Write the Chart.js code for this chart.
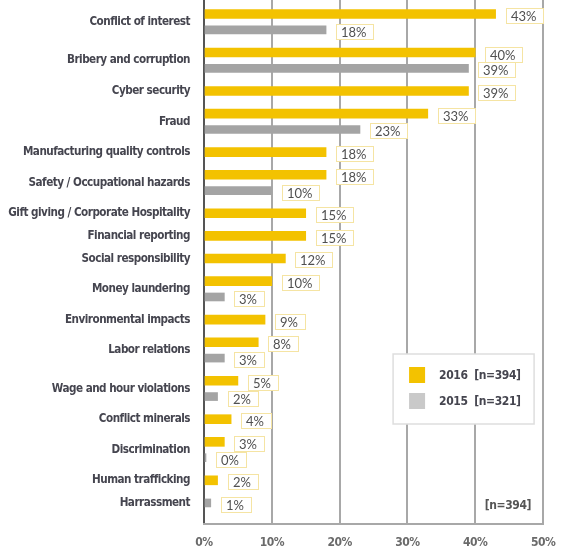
<!DOCTYPE html>
<html><head><meta charset="utf-8">
<script src="https://cdn.jsdelivr.net/npm/chart.js@4.4.1/dist/chart.umd.min.js"></script>
<style>html,body{margin:0;padding:0;background:#fff;}</style>
</head><body>
<canvas id="c" width="568" height="556" style="display:block;width:568px;height:556px"></canvas>
<script>
// ---- data ----
const categories = [
  'Conflict of interest', 'Bribery and corruption', 'Cyber security', 'Fraud',
  'Manufacturing quality controls', 'Safety / Occupational hazards',
  'Gift giving / Corporate Hospitality', 'Financial reporting', 'Social responsibility',
  'Money laundering', 'Environmental impacts', 'Labor relations', 'Wage and hour violations',
  'Conflict minerals', 'Discrimination', 'Human trafficking', 'Harrassment'
];
const values2016 = [43, 40, 39, 33, 18, 18, 15, 15, 12, 10, 9, 8, 5, 4, 3, 2, null];
const values2015 = [18, 39, null, 23, null, 10, null, null, null, 3, null, 3, 2, null, 0, null, 1];
const seriesLabels = ['2016  [n=394]', '2015  [n=321]'];
const xTickValues = [0, 10, 20, 30, 40, 50];
const sampleNote = '[n=394]';

// ---- layout of rows (derived from which series exist per category) ----
const PAIR_GAP = 0.7, CAT_GAP = 1.0;
const pts2016 = [], pts2015 = [], catCenters = [];
let pos = 0;
categories.forEach((c, i) => {
  if (i > 0) pos += CAT_GAP;
  const slots = [];
  if (values2016[i] !== null) { pts2016.push({x: values2016[i], y: pos}); slots.push(pos); }
  if (values2015[i] !== null) {
    if (slots.length) pos += PAIR_GAP;
    pts2015.push({x: values2015[i], y: pos}); slots.push(pos);
  }
  catCenters.push(slots.reduce((a, b) => a + b, 0) / slots.length);
});
const yMin = -0.62, yMax = pos + 0.93;

const condensed = '"Liberation Sans Narrow", "Arial Narrow", "DejaVu Sans Condensed", sans-serif';
const YELLOW = '#f3c200', GRAY = '#a4a4a4', LEG_GRAY = '#c9c9c9';

const tightText = {
  id: 'tightText',
  beforeDraw(chart) { chart.ctx.letterSpacing = '-0.5px'; },
  beforeDatasetsDraw(chart) { chart.ctx.letterSpacing = '0px'; }
};

const boxLabels = {
  id: 'boxLabels',
  afterDatasetsDraw(chart) {
    const ctx = chart.ctx;
    ctx.save();
    ctx.font = '13px Lato, "Open Sans", sans-serif';
    chart.data.datasets.forEach((ds, di) => {
      const meta = chart.getDatasetMeta(di);
      meta.data.forEach((el, i) => {
        const txt = ds.data[i].x + '%';
        const w = Math.round(ctx.measureText(txt).width) + 13;
        const h = 16;
        const x0 = Math.round(el.x + 10), y0 = Math.round(el.y + 2 - h / 2);
        ctx.fillStyle = '#fff';
        ctx.fillRect(x0, y0, w, h);
        ctx.strokeStyle = '#f5e4a3';
        ctx.lineWidth = 1;
        ctx.strokeRect(x0 + 0.5, y0 + 0.5, w - 1, h - 1);
        ctx.fillStyle = '#505050';
        ctx.textAlign = 'left';
        ctx.textBaseline = 'middle';
        ctx.fillText(txt, x0 + 5, y0 + h / 2 + 1);
      });
    });
    ctx.restore();
  }
};

const boxLegend = {
  id: 'boxLegend',
  afterDraw(chart) {
    const ctx = chart.ctx, a = chart.chartArea;
    ctx.save();
    const x0 = a.right - 150, y0 = a.bottom - 170, w = 141, h = 70;
    ctx.fillStyle = '#fff';
    ctx.fillRect(x0, y0, w, h);
    ctx.strokeStyle = '#dedede';
    ctx.lineWidth = 1.5;
    ctx.strokeRect(x0, y0, w, h);
    const cols = [YELLOW, LEG_GRAY];
    ctx.font = 'bold 12px ' + condensed;
    ctx.letterSpacing = '-0.4px';
    ctx.textBaseline = 'middle';
    ctx.textAlign = 'left';
    chart.data.datasets.forEach((ds, i) => {
      const cy = y0 + 21 + i * 26;
      ctx.fillStyle = cols[i];
      ctx.fillRect(x0 + 16, cy - 8, 16, 16);
      ctx.fillStyle = '#45454f';
      ctx.fillText(ds.label, x0 + 46, cy + 1);
    });
    ctx.textAlign = 'right';
    ctx.fillStyle = '#555';
    ctx.fillText(sampleNote, a.right - 12, a.bottom - 18);
    ctx.restore();
  }
};

new Chart(document.getElementById('c'), {
  type: 'bar',
  data: {
    datasets: [
      {label: seriesLabels[0], data: pts2016, backgroundColor: YELLOW, barThickness: 9},
      {label: seriesLabels[1], data: pts2015, backgroundColor: GRAY, barThickness: 8, minBarLength: 2}
    ]
  },
  options: {
    responsive: false,
    animation: false,
    indexAxis: 'y',
    grouped: false,
    layout: {padding: {top: 0, right: 21, bottom: 0, left: 0}},
    plugins: {legend: {display: false}, tooltip: {enabled: false}},
    scales: {
      y: {
        type: 'linear', reverse: true, min: yMin, max: yMax, offset: false,
        grid: {display: false, drawTicks: false, offset: false},
        border: {display: true, color: '#555', width: 2},
        afterBuildTicks: s => { s.ticks = catCenters.map(v => ({value: v})); },
        ticks: {
          autoSkip: false, padding: 14, color: '#45454f',
          font: {family: condensed, weight: 'bold', size: 11.6},
          callback: (v, i) => categories[i]
        },
        afterFit: s => { s.width = 204; s.paddingTop = 0; s.paddingBottom = 0; }
      },
      x: {
        type: 'linear', min: 0, max: 50, position: 'bottom',
        afterBuildTicks: s => { s.ticks = xTickValues.map(v => ({value: v})); },
        ticks: {
          color: '#6a6a6a', padding: 12, maxRotation: 0,
          font: {family: condensed, weight: 'bold', size: 12},
          callback: v => v + '%'
        },
        grid: {
          color: c => (c.tick && c.tick.value === 0) ? 'rgba(0,0,0,0)' : '#a8a8a8',
          lineWidth: 2, drawTicks: false
        },
        border: {display: true, color: '#a8a8a8', width: 2},
        afterFit: s => { s.height = 32; }
      }
    }
  },
  plugins: [tightText, boxLabels, boxLegend]
});
</script>
</body></html>
